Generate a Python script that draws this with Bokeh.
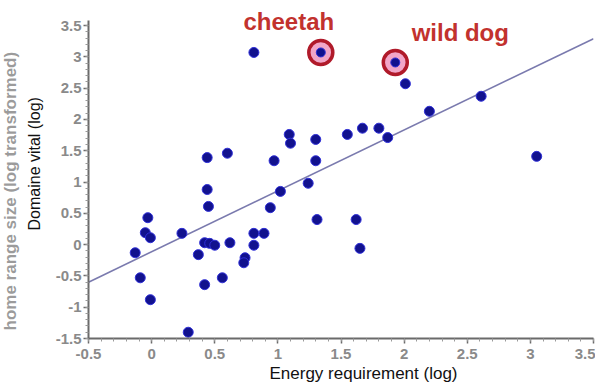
import numpy as np
from bokeh.plotting import figure
from bokeh.models import ColumnDataSource, FixedTicker, Title
from bokeh.core.properties import value
from bokeh.embed import file_html
from bokeh.resources import INLINE

# ---------------- data ----------------
x_energy = [0.81, 2.01, 2.20, 2.61, 3.05, 1.09, 1.10, 1.30, 1.55, 1.67,
            1.80, 1.87, 0.97, 1.30, 1.24, 1.02, 0.94, 1.31, 1.62, 1.65,
            0.81, 0.89, 0.81, 0.74, 0.73, 0.44, 0.60, 0.44, 0.45, -0.03,
            -0.05, -0.01, 0.24, -0.13, 0.42, 0.46, 0.50, 0.62, 0.37, -0.09,
            0.56, 0.42, -0.01, 0.29]
y_home = [3.07, 2.57, 2.13, 2.37, 1.41, 1.76, 1.62, 1.68, 1.76, 1.86,
          1.86, 1.71, 1.34, 1.34, 0.98, 0.85, 0.59, 0.40, 0.40, -0.06,
          0.18, 0.18, -0.01, -0.21, -0.29, 1.39, 1.46, 0.88, 0.61, 0.43,
          0.19, 0.11, 0.18, -0.13, 0.03, 0.02, -0.01, 0.03, -0.16, -0.53,
          -0.53, -0.64, -0.88, -1.40]

highlight_names = ["cheetah", "wild dog"]
highlight_x = [1.34, 1.93]
highlight_y = [3.07, 2.91]

fit_x = [-0.5, 3.5]
fit_y = [-0.60, 3.29]

x_ticks = [-0.5, 0, 0.5, 1, 1.5, 2, 2.5, 3, 3.5]
x_tick_labels = ["-0.5", "0", "0.5", "1", "1.5", "2", "2.5", "3", "3.5"]
y_ticks = [-1.5, -1, -0.5, 0, 0.5, 1, 1.5, 2, 2.5, 3, 3.5]
y_tick_labels = ["-1.5", "-1", "-0.5", "0", "0.5", "1", "1.5", "2", "2.5", "3", "3.5"]

x_title = "Energy requirement (log)"
y_title = "Domaine vital (log)"
y_title_orig = "home range size (log transformed)"

# ---------------- styles ----------------
label_dx = [-32, 65]
label_dy = [-31, -30]

p = figure(width=595, height=384, x_range=(-0.5, 3.5), y_range=(-1.5, 3.9),
           output_backend="svg", toolbar_location=None)
p.min_border_left = 88
p.min_border_right = 2
p.min_border_top = 0
p.min_border_bottom = 46
p.outline_line_color = None
p.xgrid.visible = False
p.ygrid.visible = False
p.background_fill_color = "white"
p.border_fill_color = "white"

# regression line
p.line(fit_x, fit_y, line_color="#7a7aae", line_width=1.6)

# points
p.scatter(x_energy, y_home, size=10, fill_color="#12128e",
          line_color="#3030d8", line_width=1)

# highlighted points
hsrc = ColumnDataSource(dict(x=highlight_x, y=highlight_y, name=highlight_names,
                             dx=label_dx, dy=label_dy))
p.scatter("x", "y", source=hsrc, size=24, fill_color="#f2a6c8",
          line_color="#b01a2a", line_width=3.5)
p.scatter("x", "y", source=hsrc, size=9, fill_color="#12128e",
          line_color="#3030d8", line_width=1)
p.text("x", "y", text="name", source=hsrc, x_offset="dx", y_offset="dy",
       text_align="center", text_baseline="alphabetic",
       text_font=value("Liberation Sans"), text_font_style="bold",
       text_font_size="24px", text_color="#c2322e")

# axes
for ax, ticks, labels in ((p.xaxis[0], x_ticks, x_tick_labels),
                          (p.yaxis[0], y_ticks, y_tick_labels)):
    ax.ticker = FixedTicker(ticks=ticks,
                            minor_ticks=list(np.round(np.arange(-1.5, 3.6, 0.1), 2)))
    ax.major_label_overrides = {t: l for t, l in zip(ticks, labels)}
    ax.axis_line_color = "#6a6a6a"
    ax.axis_line_width = 2
    ax.major_tick_line_color = "#6a6a6a"
    ax.major_tick_line_width = 1.5
    ax.major_tick_out = 5
    ax.major_tick_in = 0
    ax.minor_tick_line_color = "#9a9a9a"
    ax.minor_tick_out = 3
    ax.minor_tick_in = 0
    ax.major_label_text_font = "Liberation Sans"
    ax.major_label_text_font_style = "bold"
    ax.major_label_text_font_size = "15px"
    ax.major_label_text_color = "#8a8a8a"
p.yaxis.bounds = (-1.5, 3.58)
p.xaxis.major_label_standoff = 5
p.yaxis.major_label_standoff = 2

# axis titles (as titles so they can be offset along the axis)
p.add_layout(Title(text=x_title, align="left", offset=181, standoff=0,
                   text_font="Liberation Sans", text_font_size="17px",
                   text_font_style="normal", text_color="#111111"), "below")
p.add_layout(Title(text=y_title, align="left", offset=108, standoff=19,
                   text_font="Liberation Sans", text_font_size="16px",
                   text_font_style="normal", text_color="#111111"), "left")
p.add_layout(Title(text=y_title_orig, align="left", offset=8, standoff=-10,
                   text_font="Liberation Sans", text_font_size="17px",
                   text_font_style="bold", text_color="#7a7a7a", text_alpha=0.75), "left")

open("out.html", "w").write(file_html(p, INLINE))
